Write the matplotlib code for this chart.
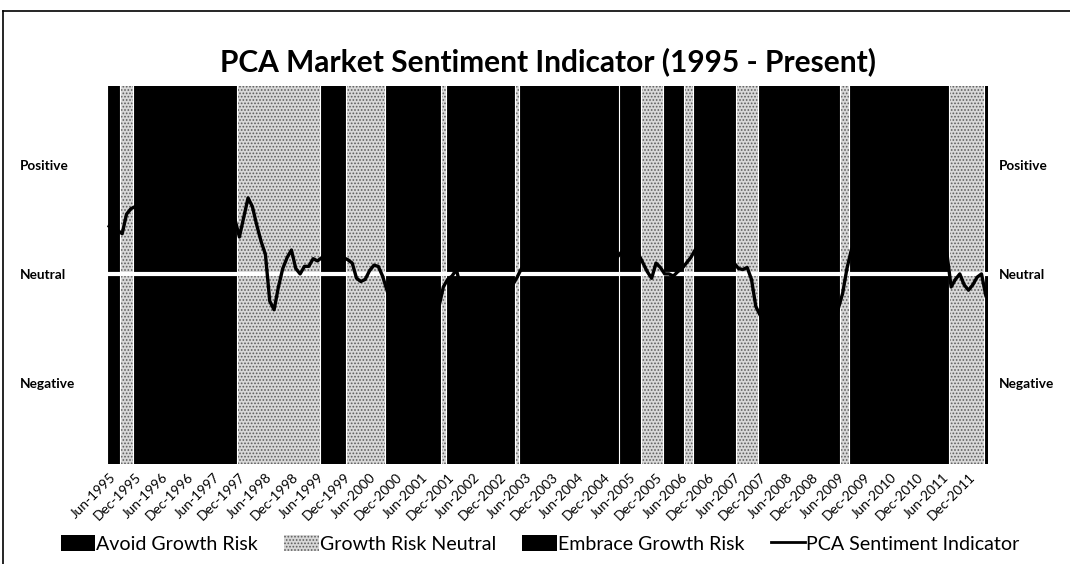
import numpy as np
import pandas as pd
import matplotlib
matplotlib.use('Agg')
import matplotlib.pyplot as plt
from matplotlib.patches import Patch
from matplotlib.lines import Line2D

plt.rcParams['font.family'] = ['Lato', 'DejaVu Sans']
plt.rcParams['hatch.linewidth'] = 0.8

# monthly sentiment readings, Jun-1995 onwards (Neutral = 0)
sentiment = [
    0.44, 0.42, 0.40, 0.37, 0.55, 0.60,
    0.62, 0.65, 0.70, 0.68, 0.72, 0.75, 0.70, 0.66, 0.70, 0.74, 0.78, 0.80,
    0.76, 0.72, 0.70, 0.74, 0.78, 0.75, 0.70, 0.68, 0.64, 0.60, 0.55,
    0.50, 0.34, 0.52, 0.70, 0.62, 0.45, 0.30, 0.18, -0.25, -0.33, -0.12,
    0.05, 0.15, 0.22, 0.05, 0.00, 0.07, 0.07, 0.14, 0.12,
    0.15, 0.20, 0.24, 0.22, 0.18,
    0.15, 0.13, 0.10, -0.04, -0.07, -0.05, 0.03, 0.08, 0.07, -0.02, -0.15,
    -0.28, -0.33, -0.36, -0.35, -0.38, -0.40, -0.42, -0.46, -0.50, -0.56, -0.48, -0.30,
    -0.12, -0.05, -0.02, 0.04, -0.12, -0.25, -0.35, -0.42, -0.48, -0.52, -0.55,
    -0.50, -0.45, -0.38, -0.30, -0.22, -0.10, -0.03, 0.05,
    0.10, 0.16, 0.22, 0.28, 0.33, 0.38, 0.42, 0.45, 0.44, 0.42, 0.40, 0.38,
    0.36, 0.35, 0.33, 0.30, 0.28, 0.25, 0.22, 0.20, 0.18, 0.15,
    0.20, 0.25, 0.30, 0.25, 0.18,
    0.10, 0.02, -0.04, 0.10, 0.06, 0.00, 0.00, -0.02, 0.02, 0.05, 0.10, 0.15,
    0.22, 0.28, 0.30, 0.32, 0.30, 0.26, 0.22, 0.18, 0.14, 0.10,
    0.05, 0.04, 0.06, -0.05, -0.30, -0.38,
    -0.45, -0.50, -0.55, -0.60, -0.64, -0.67, -0.70, -0.72, -0.90, -1.20,
    -1.12, -1.08, -1.05, -0.98, -0.88, -0.72, -0.55, -0.32,
    -0.18, 0.05, 0.22,
    0.30, 0.40, 0.50, 0.55, 0.60, 0.62, 0.60, 0.58, 0.55, 0.52, 0.50, 0.48,
    0.50, 0.52, 0.50, 0.45, 0.40, 0.38, 0.35, 0.30, 0.25,
    0.20, -0.12, -0.05, 0.00, -0.10, -0.15, -0.10, -0.03, 0.00, -0.20,
]

months = pd.period_range('1995-06', periods=len(sentiment), freq='M')

# regime blocks (month index, end exclusive)
regime_start = [0, 3, 6, 30, 49, 55, 64, 77, 78, 94, 95, 118, 123, 128, 133, 135, 145, 150, 169, 171, 194, 202]
regime_end = [3, 6, 30, 49, 55, 64, 77, 78, 94, 95, 118, 123, 128, 133, 135, 145, 150, 169, 171, 194, 202, 203]
regime_type = ['E', 'N', 'E', 'N', 'E', 'N', 'A', 'N', 'A', 'N', 'E', 'E',
               'N', 'E', 'N', 'E', 'N', 'A', 'N', 'E', 'N', 'A']

level_ticks = [-1, 0, 1]
level_labels = ['Negative', 'Neutral', 'Positive']

legend_labels = ['Avoid Growth Risk', 'Growth Risk Neutral', 'Embrace Growth Risk', 'PCA Sentiment Indicator']

# styles
dark = '#000000'
neutral_face = '#d8d8d8'
neutral_hatch = '#5e5e5e'

fig = plt.figure(figsize=(10.7, 5.64), dpi=100)
ax = fig.add_axes([107 / 1070, 1 - 464 / 564, (988 - 107) / 1070, (464 - 86) / 564])

for s, e, t in zip(regime_start, regime_end, regime_type):
    if t == 'N':
        ax.axvspan(s - 0.5, e - 0.5, facecolor=neutral_face, edgecolor=neutral_hatch,
                   hatch='.....', linewidth=0, zorder=1)
    else:
        ax.axvspan(s - 0.5, e - 0.5, facecolor=dark, edgecolor='none', linewidth=0, zorder=1)
    # thin white seam between blocks
    ax.axvline(s - 0.5, color='white', linewidth=0.8, zorder=2)

ax.axhline(0, color='white', linewidth=3, zorder=3)

x = np.arange(len(sentiment))
ax.plot(x, sentiment, color='black', linewidth=2.4, zorder=4)

ax.set_xlim(-0.5, len(sentiment) - 0.5)
ax.set_ylim(-1.75, 1.73)

tick_idx = list(range(0, 199, 6))
ax.set_xticks(tick_idx)
ax.set_xticklabels([months[i].strftime('%b-%Y') for i in tick_idx], rotation=45,
                   ha='right', rotation_mode='anchor', fontsize=9.8)
ax.tick_params(axis='x', length=0, pad=5)

# level labels on both sides, left aligned
ax.set_yticks(level_ticks)
ax.set_yticklabels(level_labels, fontsize=9.8, fontweight='bold')
ax.tick_params(axis='y', length=0, labelright=True, pad=0)
for t in ax.yaxis.get_major_ticks():
    t.label1.set_horizontalalignment('left')
    t.label1.set_x(-87 / 881)
    t.label2.set_horizontalalignment('left')
    t.label2.set_fontweight('bold')
    t.label2.set_x(1 + 11 / 881)

for sp in ax.spines.values():
    sp.set_visible(False)

fig.text(548 / 1070, 1 - 62 / 564, 'PCA Market Sentiment Indicator (1995 - Present)',
         ha='center', va='center', fontsize=21.5, fontweight='bold')

handles = [
    Patch(facecolor=dark, edgecolor='none'),
    Patch(facecolor=neutral_face, edgecolor=neutral_hatch, hatch='.....', linewidth=0),
    Patch(facecolor=dark, edgecolor='none'),
    Line2D([], [], color='black', linewidth=2),
]
fig.legend(handles, legend_labels, loc='center', bbox_to_anchor=(540 / 1070, 1 - 544 / 564),
           ncol=4, frameon=False, fontsize=14.1, handlelength=1.75, handleheight=0.85,
           handletextpad=0.05, columnspacing=1.35)

# outer chart frame (left and top edges)
fig.add_artist(Line2D([3 / 1070, 3 / 1070], [0, 1 - 11 / 564], color='black', linewidth=1.2))
fig.add_artist(Line2D([3 / 1070, 1], [1 - 11 / 564, 1 - 11 / 564], color='black', linewidth=1.2))

fig.savefig('out.png', dpi=100)
